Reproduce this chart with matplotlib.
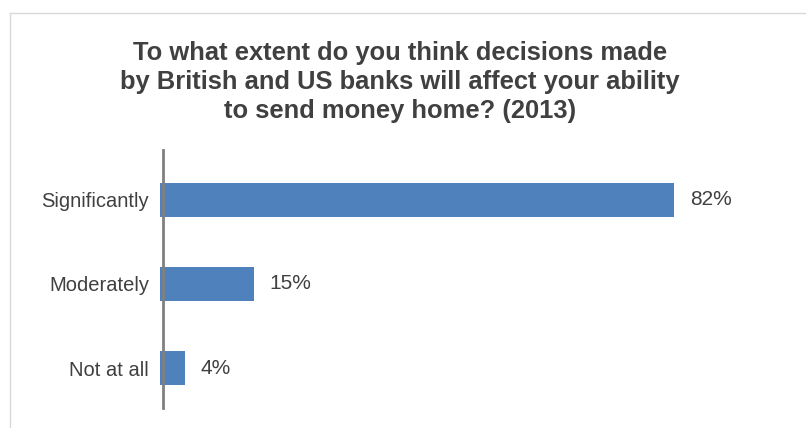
import matplotlib.pyplot as plt
from matplotlib.lines import Line2D

categories = ['Significantly', 'Moderately', 'Not at all']
values = [82, 15, 4]
value_labels = ['82%', '15%', '4%']

title = ('To what extent do you think decisions made\n'
         'by British and US banks will affect your ability\n'
         'to send money home? (2013)')

plt.rcParams['font.family'] = ['Liberation Sans', 'DejaVu Sans']
text_col = '#404040'
bar_col = '#4F81BD'

W, H = 806, 428
fig = plt.figure(figsize=(W / 100, H / 100), dpi=100)

# light frame, top and left visible
fig.add_artist(Line2D([10 / W, 1], [1 - 13 / H, 1 - 13 / H], color='#D9D9D9', lw=1))
fig.add_artist(Line2D([10 / W, 10 / W], [0, 1 - 13 / H], color='#D9D9D9', lw=1))

ax = fig.add_axes([160 / W, 1 - 408 / H, (674 - 160) / W, (408 - 150) / H])
y = range(len(categories))
ax.barh(y, values, height=0.4, color=bar_col, zorder=2)
ax.set_xlim(0, 82)
ax.set_ylim(2.476, -0.595)
for i, v in enumerate(values):
    ax.text(v + 2.5, i, value_labels[i], va='center', ha='left', fontsize=15, color=text_col)

ax.set_yticks(list(y))
ax.set_yticklabels(categories)
ax.tick_params(axis='y', length=0, pad=10, labelsize=14.5, labelcolor=text_col)
ax.set_xticks([])
for s in ['top', 'right', 'bottom']:
    ax.spines[s].set_visible(False)
ax.spines['left'].set_color('#808080')
ax.spines['left'].set_linewidth(2)
ax.spines['left'].set_position(('data', 0.45))
ax.spines['left'].set_zorder(3)

fig.text(400 / W, 1 - 82 / H, title, ha='center', va='center', fontsize=18.4,
         fontweight='bold', color=text_col, linespacing=1.25)

fig.savefig('out.png', dpi=100)
